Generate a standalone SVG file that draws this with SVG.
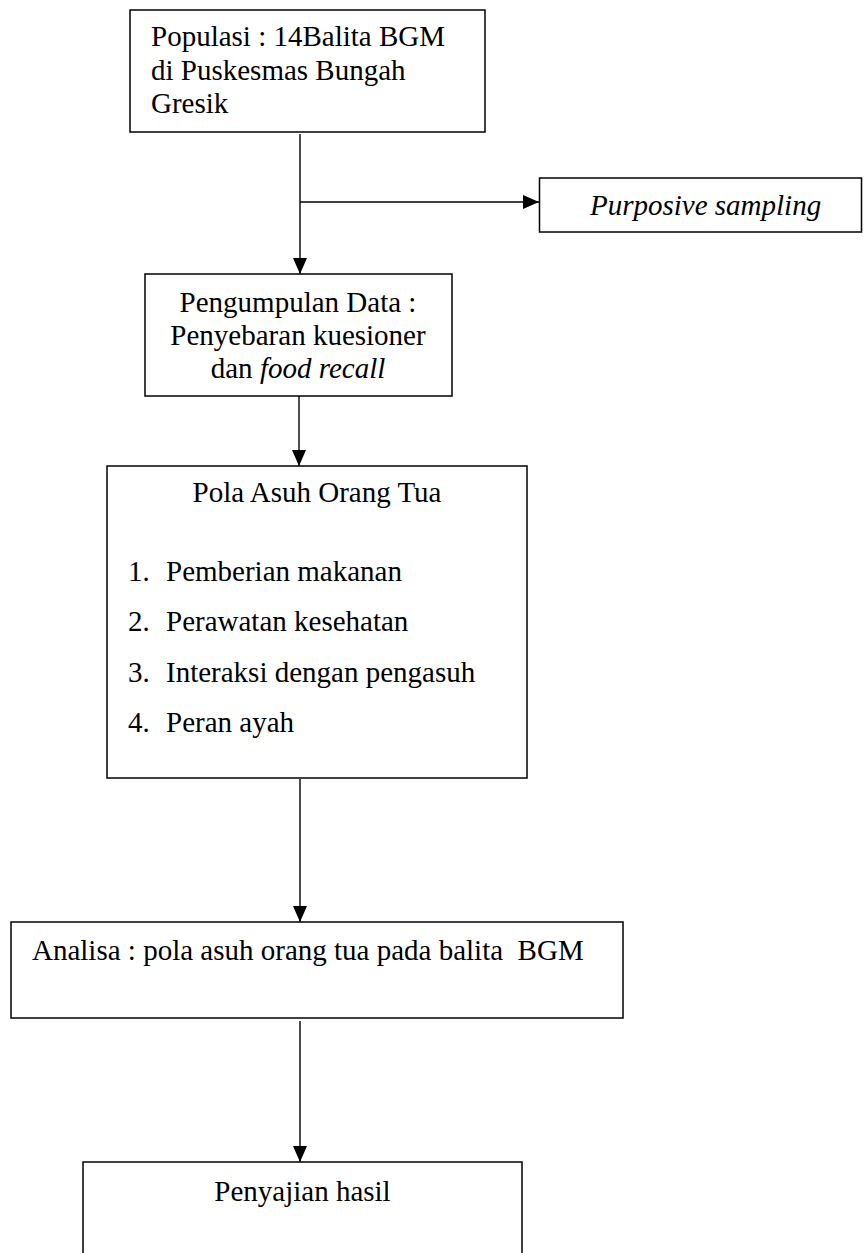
<svg xmlns="http://www.w3.org/2000/svg" width="864" height="1253" viewBox="0 0 864 1253">
  <style>
    .box { fill: #ffffff; stroke: #000000; stroke-width: 1.5; }
    .t { font-family: "Liberation Serif", "Times New Roman", serif; font-size: 29px; fill: #000000; }
    .c { text-anchor: middle; }
    .i { font-style: italic; }
    .conn { fill: none; stroke: #000000; stroke-width: 1.4; }
  </style>
  <defs>
    <marker id="arrow" markerUnits="userSpaceOnUse" markerWidth="16" markerHeight="14" refX="16" refY="7" orient="auto">
      <path d="M0,0 L16,7 L0,14 z" fill="#000000"/>
    </marker>
  </defs>
  <rect width="864" height="1253" fill="#ffffff"/>

  <g id="connectors">
    <path class="conn" d="M300,134 L300,274" marker-end="url(#arrow)"/>
    <path class="conn" d="M300,202 L539,202" marker-end="url(#arrow)"/>
    <path class="conn" d="M299,396 L299,466" marker-end="url(#arrow)"/>
    <path class="conn" d="M300,779 L300,922" marker-end="url(#arrow)"/>
    <path class="conn" d="M300,1021 L300,1162" marker-end="url(#arrow)"/>
  </g>

  <g id="populasi">
    <rect class="box" x="130" y="10" width="355" height="122"/>
    <text class="t" x="151" y="45.5">Populasi : 14Balita BGM</text>
    <text class="t" x="151" y="79.5">di Puskesmas Bungah</text>
    <text class="t" x="151" y="113">Gresik</text>
  </g>

  <g id="sampling">
    <rect class="box" x="539.5" y="178" width="322" height="54"/>
    <text class="t i" x="590" y="215">Purposive sampling</text>
  </g>

  <g id="pengumpulan">
    <rect class="box" x="145" y="274" width="307" height="122"/>
    <text class="t c" x="298" y="312">Pengumpulan Data :</text>
    <text class="t c" x="298" y="345">Penyebaran kuesioner</text>
    <text class="t c" x="298" y="378">dan <tspan class="i">food recall</tspan></text>
  </g>

  <g id="pola-asuh">
    <rect class="box" x="107" y="466" width="420" height="312"/>
    <text class="t c" x="317" y="502">Pola Asuh Orang Tua</text>
    <text class="t" x="128" y="581">1.</text>
    <text class="t" x="166" y="581">Pemberian makanan</text>
    <text class="t" x="128" y="631">2.</text>
    <text class="t" x="166" y="631">Perawatan kesehatan</text>
    <text class="t" x="128" y="682">3.</text>
    <text class="t" x="166" y="682">Interaksi dengan pengasuh</text>
    <text class="t" x="128" y="732">4.</text>
    <text class="t" x="166" y="732">Peran ayah</text>
  </g>

  <g id="analisa">
    <rect class="box" x="11" y="922" width="612" height="96"/>
    <text class="t" x="32" y="960" xml:space="preserve">Analisa : pola asuh orang tua pada balita  BGM</text>
  </g>

  <g id="penyajian">
    <rect class="box" x="83" y="1162" width="439" height="110"/>
    <text class="t c" x="302.5" y="1201">Penyajian hasil</text>
  </g>
</svg>
